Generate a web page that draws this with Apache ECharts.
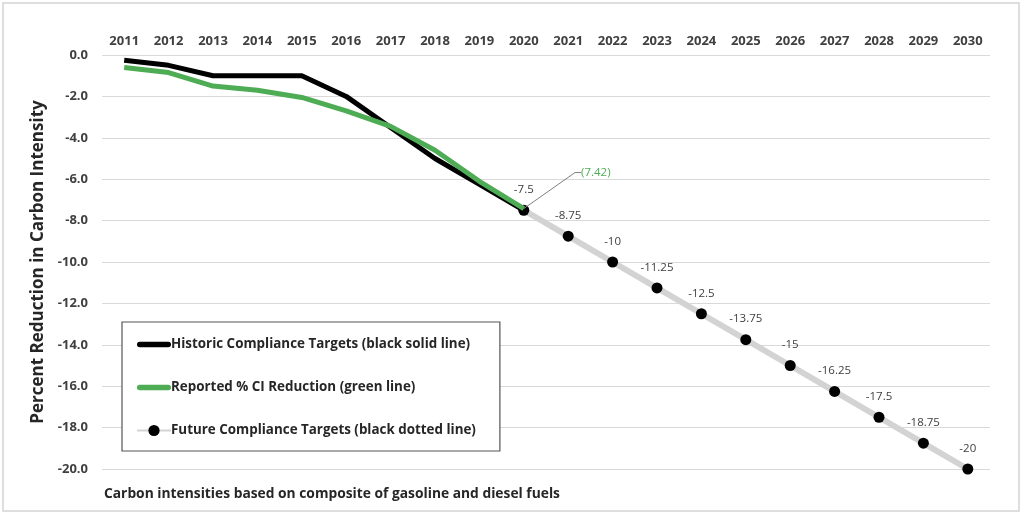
<!DOCTYPE html>
<html><head><meta charset="utf-8">
<script src="https://cdn.jsdelivr.net/npm/echarts@6/dist/echarts.min.js"></script>
<style>html,body{margin:0;padding:0;background:#fff}#c{width:1024px;height:516px}</style>
</head><body><div id="c"></div>
<script>
const years = ['2011','2012','2013','2014','2015','2016','2017','2018','2019','2020','2021','2022','2023','2024','2025','2026','2027','2028','2029','2030'];
const historic = [-0.25,-0.5,-1.0,-1.0,-1.0,-2.0,-3.5,-5.0,-6.25,-7.5,null,null,null,null,null,null,null,null,null,null];
const reported = [-0.6,-0.85,-1.5,-1.7,-2.05,-2.7,-3.45,-4.6,-6.1,-7.42,null,null,null,null,null,null,null,null,null,null];
const future = [null,null,null,null,null,null,null,null,null,-7.5,-8.75,-10,-11.25,-12.5,-13.75,-15,-16.25,-17.5,-18.75,-20];
const yTicks = {min:-20, max:0, interval:2};
const seriesNames = ['Historic Compliance Targets (black solid line)','Reported % CI Reduction (green line)','Future Compliance Targets (black dotted line)'];
const yTitle = 'Percent Reduction in Carbon Intensity';
const footnote = 'Carbon intensities based on composite of gasoline and diesel fuels';
const reportedLabel = '(7.42)';

const FONT = 'Open Sans';
const GREEN = '#4dac54';
const lineIcon = 'path://M2,0 L28,0 A2.5,2.5 0 0 1 28,5 L2,5 A2.5,2.5 0 0 1 2,0 Z';
const chart = echarts.init(document.getElementById('c'));
chart.setOption({
  animation:false,
  backgroundColor:'#fff',
  textStyle:{fontFamily:FONT},
  graphic:[
    {type:'rect',shape:{x:3,y:3,width:1016,height:508},style:{fill:'none',stroke:'#d4d4d4',lineWidth:1.5},z:-1},
    {type:'text',left:104,top:487,style:{text:footnote,font:'bold 13.8px "Open Sans"',fill:'#262626'}}
  ],
  grid:{left:102,right:34,top:55,bottom:47},
  legend:{
    orient:'vertical',left:122,top:322,
    padding:[16,24,14,14],itemGap:30,itemWidth:34,itemHeight:14,
    backgroundColor:'#fff',borderColor:'#555',borderWidth:1.2,
    textStyle:{fontFamily:FONT,fontWeight:'bold',fontSize:13.4,color:'#262626',padding:[0,0,0,-5]},
    data:[
      {name:seriesNames[0],icon:lineIcon},
      {name:seriesNames[1],icon:lineIcon},
      {name:seriesNames[2]}
    ]
  },
  xAxis:{type:'category',position:'top',data:years,boundaryGap:true,
    axisLine:{show:false},axisTick:{show:false},
    axisLabel:{margin:7,fontFamily:FONT,fontWeight:'bold',fontSize:13,color:'#404040'}},
  yAxis:{type:'value',min:yTicks.min,max:yTicks.max,interval:yTicks.interval,
    name:yTitle,nameLocation:'middle',nameGap:53,nameRotate:90,
    nameTextStyle:{fontFamily:FONT,fontWeight:'bold',fontSize:17,color:'#262626'},
    axisLabel:{margin:14,fontFamily:FONT,fontWeight:'bold',fontSize:13,color:'#404040',formatter:v=>v.toFixed(1)},
    splitLine:{lineStyle:{color:'#d9d9d9',width:1.2}}},
  series:[
    {name:seriesNames[0],type:'line',data:historic,symbol:'none',z:3,
      lineStyle:{color:'#000',width:5},itemStyle:{color:'#000'}},
    {name:seriesNames[1],type:'line',
      data:reported.map((v,i)=> i===9 ? {value:v,symbol:'circle',symbolSize:0.1,
        label:{show:true,formatter:reportedLabel,position:'top',distance:0,color:GREEN,fontSize:11.5}} : v),
      symbol:'none',showSymbol:true,z:4,
      labelLayout:{dx:72,dy:-30},
      labelLine:{show:true,length2:6,lineStyle:{color:'#808080',width:1}},
      lineStyle:{color:GREEN,width:5},itemStyle:{color:GREEN}},
    {name:seriesNames[2],type:'line',data:future,symbol:'circle',symbolSize:11,showAllSymbol:true,z:2,
      lineStyle:{color:'#d3d3d3',width:6},itemStyle:{color:'#000'},
      label:{show:true,position:'top',distance:9,color:'#404040',fontSize:11.5}}
  ]
});
</script></body></html>
